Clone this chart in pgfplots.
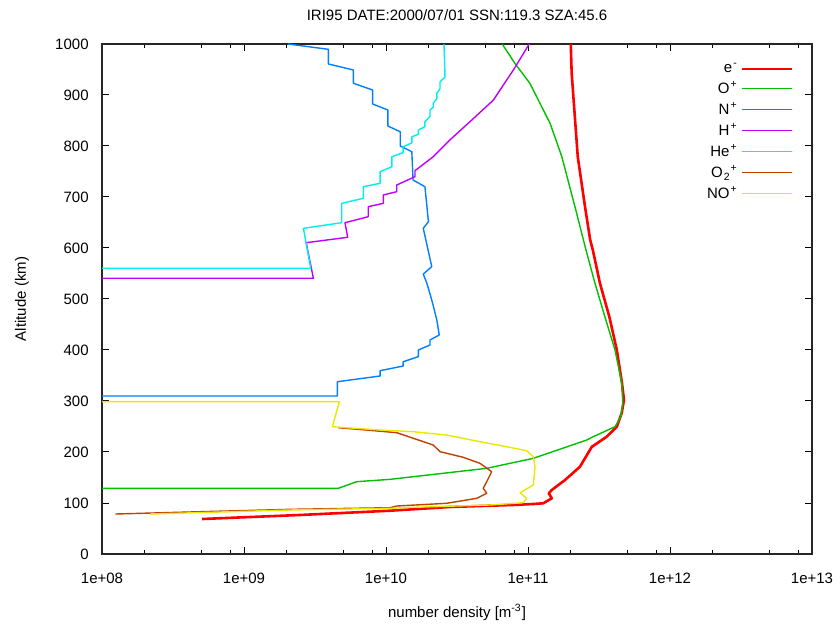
\documentclass[border=0pt]{standalone}
\usepackage{fontspec}
\setmainfont{Liberation Sans}
\usepackage{pgfplots}
\pgfplotsset{compat=1.18}

% gnuplot-style line colours
\definecolor{gpred}{HTML}{FF0000}
\definecolor{gpgreen}{HTML}{00C000}
\definecolor{gpblue}{HTML}{0080FF}
\definecolor{gpmagenta}{HTML}{C000FF}
\definecolor{gpcyan}{HTML}{00EEEE}
\definecolor{gpbrown}{HTML}{C04000}
\definecolor{gpyellow}{HTML}{E8E800}

\newcommand{\ion}[2]{#1\kern0.6pt\textsuperscript{#2}}

\begin{document}
\fontsize{7.5}{9}\selectfont
\begin{tikzpicture}
\begin{axis}[
  scale only axis, width=355pt, height=255pt,
  xmode=log, xmin=1e8, xmax=1e13, ymin=0, ymax=1000,
  xtick={1e8,1e9,1e10,1e11,1e12,1e13},
  xticklabels={1e+08,1e+09,1e+10,1e+11,1e+12,1e+13},
  minor xtick={2e8,5e8,8e8,2e9,5e9,8e9,2e10,5e10,8e10,2e11,5e11,8e11,2e12,5e12,8e12},
  ytick={0,100,...,1000},
  yticklabel style={/pgf/number format/1000 sep={}, /pgf/number format/assume math mode=true, xshift=-4pt},
  xticklabel style={yshift=-7pt},
  tick align=inside, major tick length=3.5pt, minor tick length=2pt,
  every tick/.style={black, line width=0.5pt},
  axis line style={line width=0.6pt, black!85},
  every axis title shift=0pt,
  title={IRI95 DATE:2000/07/01 SSN:119.3 SZA:45.6},
  title style={at={(axis description cs:0.5,1.057)}, anchor=center, inner sep=0pt, yshift=0pt},
  xlabel={number density [m\textsuperscript{-3}]},
  xlabel style={at={(axis description cs:0.5,-0.1137)}, anchor=center, inner sep=0pt},
  ylabel={Altitude (km)},
  ylabel style={at={(axis description cs:-0.1127,0.5)}, anchor=center, inner sep=0pt},
  legend cell align=right,
  legend plot pos=right,
  legend image code/.code={\draw[#1] (0pt,0pt) -- (25pt,0pt);},
  legend style={at={(axis description cs:0.982,0.979)}, anchor=north east,
    draw=none, fill=none, font=\fontsize{7.5}{9}\selectfont, row sep=-0.65pt,
    nodes={inner xsep=1.2pt}},
  every axis plot/.append style={line width=0.7pt, line join=round},
]
\coordinate (ll) at (rel axis cs:0,0);
\coordinate (ur) at (rel axis cs:1,1);

% electron density
\addplot[gpred, line width=1.3pt] coordinates {
(5.06e8,68.6) (1.10e9,72.5) (2.48e9,76.5) (1.07e10,84.9) (2.82e10,92.2)
(7.83e10,96.1) (1.08e11,98) (1.28e11,99.4) (1.47e11,109.2) (1.40e11,119)
(1.47e11,125.5) (1.82e11,145) (2.32e11,171) (2.81e11,210) (3.58e11,230)
(4.22e11,249.6) (4.57e11,276.5) (4.74e11,302) (4.59e11,335) (4.22e11,400)
(3.74e11,465) (3.21e11,531) (2.86e11,596) (2.74e11,616) (2.52e11,681)
(2.24e11,779) (2.03e11,942.5) (2.00e11,1000)};
\addlegendentry{\ion{e}{-}}

% O+
\addplot[gpgreen] coordinates {
(1e5,128.8) (4.61e9,128.8) (6.22e9,141.8) (1.07e10,146.4) (5.12e10,168)
(1.09e11,187.6) (2.59e11,223.5) (2.88e11,230) (4.10e11,249.6) (4.50e11,269)
(4.65e11,295.5) (4.57e11,335) (4.10e11,400) (3.48e11,465) (2.96e11,531)
(2.56e11,596) (2.14e11,681) (1.73e11,779) (1.43e11,844.5) (1.03e11,923)
(8.09e10,962) (6.58e10,1000)};
\addlegendentry{\ion{O}{+}}

% N+
\addplot[gpblue] coordinates {
(1e5,309.8) (4.54e9,309.8) (4.54e9,337.8) (9.08e9,349) (9.08e9,359.4)
(1.32e10,368.6) (1.32e10,377) (1.69e10,386.9) (1.69e10,400) (2.04e10,409.8)
(2.04e10,419.6) (2.37e10,429.4) (2.28e10,458.8) (2.10e10,498) (1.94e10,530.8)
(1.83e10,549) (2.10e10,563.3) (1.83e10,638.6) (1.99e10,651.6) (1.88e10,720.2)
(1.55e10,733.3) (1.52e10,788.8) (1.26e10,800) (1.26e10,828) (1.03e10,839.2)
(1.03e10,870.6) (8.05e9,882.4) (8.05e9,909.8) (5.89e9,923) (5.89e9,949)
(3.93e9,960.8) (3.93e9,989.6) (2.04e9,1000)};
\addlegendentry{\ion{N}{+}}

% H+
\addplot[gpmagenta] coordinates {
(1e5,540.6) (3.08e9,540.6) (2.74e9,610.4) (5.37e9,621) (5.14e9,649.6)
(7.50e9,661.4) (7.50e9,681) (9.57e9,687.6) (9.57e9,704) (1.19e10,710.4)
(1.19e10,723.5) (1.60e10,739.8) (1.60e10,751.6) (2.15e10,779) (2.82e10,812)
(4.02e10,851) (5.70e10,890) (7.89e10,949) (1.02e11,1000)};
\addlegendentry{\ion{H}{+}}

% He+
\addplot[gpcyan] coordinates {
(1e5,560.2) (2.95e9,560.2) (2.62e9,638.6) (4.88e9,649.6) (4.88e9,687.6)
(6.92e9,697.5) (6.92e9,720.2) (9.08e9,726.8) (9.08e9,749.6) (1.10e10,759.4)
(1.10e10,779) (1.32e10,787) (1.32e10,798.6) (1.52e10,806) (1.52e10,818.2)
(1.69e10,823) (1.69e10,831.4) (1.88e10,838) (1.88e10,847.6) (2.04e10,858)
(2.04e10,870.6) (2.15e10,876) (2.15e10,883.7) (2.28e10,893) (2.28e10,903.3)
(2.40e10,912) (2.40e10,926) (2.60e10,935) (2.60e10,942.5) (2.56e10,1000)};
\addlegendentry{\ion{He}{+}}

% O2+
\addplot[gpbrown] coordinates {
(1.24e8,78.4) (4.17e8,82.4) (2.11e9,87.6) (1.07e10,90.8) (1.19e10,94.1)
(2.67e10,99.4) (4.36e10,109.2) (5.12e10,119) (4.84e10,128.8) (5.12e10,141.8)
(5.55e10,161.4) (4.59e10,177.8) (3.50e10,189.6) (2.40e10,200.6) (2.15e10,213.7)
(1.56e10,226.8) (1.19e10,237.9) (7.31e9,243) (4.61e9,247.6)};
\addlegendentry{O\kern0.6pt\textsubscript{2}\textsuperscript{+}}

% NO+
\addplot[gpyellow] coordinates {
(2.18e8,78.4) (2.11e9,86.3) (1.07e10,89.6) (1.56e10,91.6) (5.40e10,96.1)
(9.27e10,100.6) (9.77e10,109.2) (8.79e10,120.2) (1.09e11,135.3) (1.12e11,171.2)
(1.09e11,190.8) (9.77e10,202.5) (7.08e10,210.4) (4.59e10,220.2) (2.67e10,233.3)
(1.56e10,239.8) (9.08e9,243.1) (4.19e9,249.6) (4.69e9,298.7) (1e5,298.7)};
\addlegendentry{\ion{NO}{+}}
\end{axis}
\pgfresetboundingbox
\path[use as bounding box] ([shift={(-51pt,-36pt)}]ll) rectangle ([shift={(14pt,22pt)}]ur);
\end{tikzpicture}
\end{document}
